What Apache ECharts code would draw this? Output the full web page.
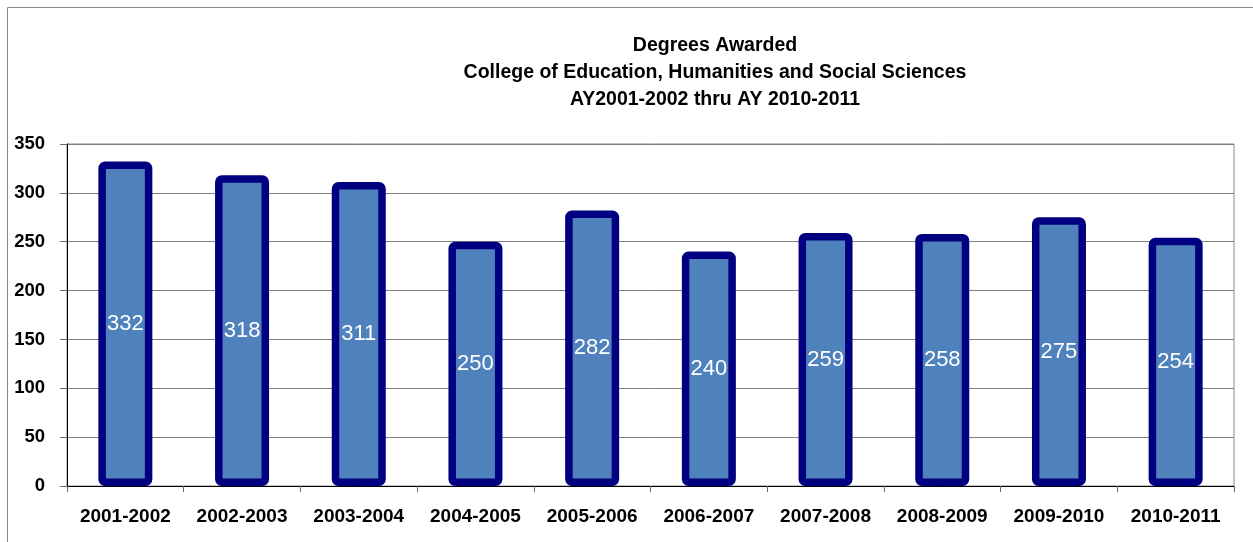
<!DOCTYPE html>
<html><head><meta charset="utf-8">
<script src="https://cdn.jsdelivr.net/npm/echarts@6/dist/echarts.min.js"></script>
<style>html,body{margin:0;padding:0;background:#fff}#c{width:1253px;height:542px}</style>
</head><body><div id="c"></div>
<script>
const categories = ['2001-2002','2002-2003','2003-2004','2004-2005','2005-2006','2006-2007','2007-2008','2008-2009','2009-2010','2010-2011'];
const degrees = [332, 318, 311, 250, 282, 240, 259, 258, 275, 254];
const titleLines = ['Degrees Awarded','College of Education, Humanities and Social Sciences','AY2001-2002 thru AY 2010-2011'];
const FONT = '"Liberation Sans Narrow", "Arial Narrow", "Liberation Sans", Arial, sans-serif';
const chart = echarts.init(document.getElementById('c'), null, {renderer:'canvas'});
chart.setOption({
  animation:false,
  backgroundColor:'#fff',
  graphic:[{type:'rect', shape:{x:7.5,y:7.5,width:1300,height:600}, style:{fill:'none',stroke:'#888',lineWidth:1}, silent:true, z:-10}],
  title:{text:titleLines.join('\n'), left:710, top:27, textAlign:'center',
    textStyle:{fontFamily:FONT, fontWeight:'bold', fontSize:19.5, lineHeight:27, color:'#000'}},
  grid:{left:67, right:19, top:144, bottom:56, show:true, borderColor:'#888', borderWidth:1, containLabel:false},
  xAxis:{type:'category', data:categories,
    axisLine:{lineStyle:{color:'#000', width:1}},
    axisTick:{show:true, length:6, lineStyle:{color:'#666'}},
    axisLabel:{fontFamily:FONT, fontWeight:'bold', fontSize:19, color:'#000', margin:21, interval:0}},
  yAxis:{type:'value', min:0, max:350, interval:50,
    axisLine:{show:true, lineStyle:{color:'#000', width:1}},
    axisTick:{show:true, length:7, lineStyle:{color:'#666'}},
    splitLine:{lineStyle:{color:'#808080', width:1}},
    axisLabel:{fontFamily:FONT, fontWeight:'bold', fontSize:18.5, color:'#000', margin:22}},
  series:[{type:'bar', data:degrees, barWidth:54,
    itemStyle:{color:'#4F81BD', borderColor:'#000080', borderWidth:7.5, borderRadius:3},
    label:{show:true, position:'inside', fontFamily:FONT, fontSize:22, color:'#fff'}}]
});
</script></body></html>
